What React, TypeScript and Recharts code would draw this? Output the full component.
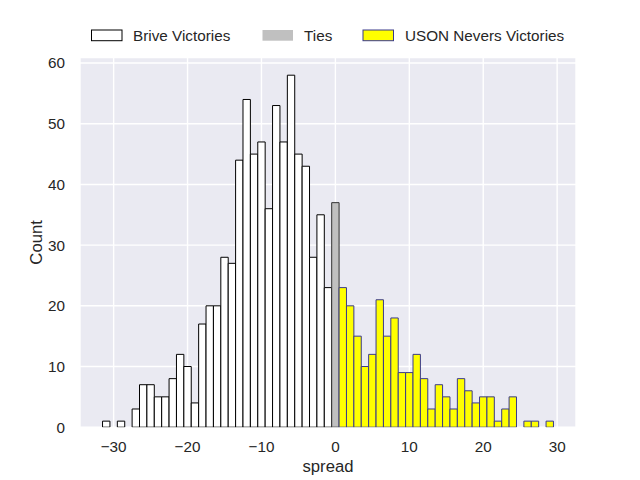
import React from 'react';
import { BarChart, Bar, XAxis, YAxis, CartesianGrid, Legend } from 'recharts';

// histogram bins (width 1, centred on the integer spread)
const spreads = [
  -31, -30, -29, -28, -27, -26, -25, -24, -23, -22, -21, -20, -19, -18, -17, -16,
  -15, -14, -13, -12, -11, -10, -9, -8, -7, -6, -5, -4, -3, -2, -1, 0,
  1, 2, 3, 4, 5, 6, 7, 8, 9, 10, 11, 12, 13, 14, 15, 16, 17, 18, 19, 20,
  21, 22, 23, 24, 25, 26, 27, 28, 29,
];
const counts = [
  1, 0, 1, 0, 3, 7, 7, 5, 5, 8, 12, 10, 4, 17, 20, 20,
  28, 27, 44, 54, 45, 47, 36, 53, 47, 58, 45, 43, 28, 35, 23, 37,
  23, 20, 15, 10, 12, 21, 15, 18, 9, 9, 12, 8, 3, 7, 5, 3, 8, 6, 4, 5,
  5, 1, 3, 5, 0, 1, 1, 0, 1,
];
const xTicks = [-30, -20, -10, 0, 10, 20, 30];
const yTicks = [0, 10, 20, 30, 40, 50, 60];

const data = spreads.map((x, i) => ({
  x,
  brive: x < 0 ? counts[i] : 0,
  ties: x === 0 ? counts[i] : 0,
  uson: x > 0 ? counts[i] : 0,
}));

const FONT = '"Liberation Sans", Arial, sans-serif';
const TEXT = '#262626';

const LegendBox = () => (
  <svg width={640} height={56} style={{ display: 'block' }}>
    <rect x={91.5} y={30} width={30.5} height={10.7} fill="#ffffff" stroke="#000000" strokeWidth={1} />
    <text x={133} y={41} fontSize={15.28} fontFamily={FONT} fill={TEXT}>Brive Victories</text>
    <rect x={262.5} y={30} width={30.5} height={10.7} fill="#c0c0c0" />
    <text x={304} y={41} fontSize={15.28} fontFamily={FONT} fill={TEXT}>Ties</text>
    <rect x={363} y={30} width={30.5} height={10.7} fill="#ffff00" stroke="#3a3a8c" strokeWidth={1} />
    <text x={405} y={41} fontSize={15.28} fontFamily={FONT} fill={TEXT}>USON Nevers Victories</text>
  </svg>
);

const CountLabel = () => (
  <text
    x={42.5}
    y={242.4}
    transform="rotate(-90 42.5 242.4)"
    textAnchor="middle"
    fontSize={16.67}
    fontFamily={FONT}
    fill={TEXT}
  >
    Count
  </text>
);

const App: React.FC = () => {
  return (
    <div style={{ position: 'absolute', left: 0, top: 0, width: 640, height: 480, background: '#ffffff' }}>
      <BarChart
        width={640}
        height={480}
        data={data}
        margin={{ top: 57.6, right: 64, bottom: 0, left: 0 }}
        barCategoryGap={0}
        barGap={0}
      >
        <CartesianGrid fill="#eaeaf2" fillOpacity={1} stroke="#ffffff" strokeWidth={1.4} />
        <XAxis
          dataKey="x"
          type="number"
          domain={[-34.55, 32.55]}
          ticks={xTicks}
          allowDataOverflow
          height={52.8}
          axisLine={false}
          tickLine={false}
          tickSize={0}
          tickMargin={14}
          tick={{ fontSize: 15.28, fontFamily: FONT, fill: TEXT }}
          tickFormatter={(v: number) => (v < 0 ? `\u2212${Math.abs(v)}` : `${v}`)}
          label={{ value: 'spread', position: 'insideBottom', offset: 8, fontSize: 16.67, fontFamily: FONT, fill: TEXT }}
        />
        <YAxis
          type="number"
          domain={[0, 60.9]}
          ticks={yTicks}
          allowDataOverflow
          width={80}
          axisLine={false}
          tickLine={false}
          tickSize={0}
          tickMargin={15}
          tick={{ fontSize: 15.28, fontFamily: FONT, fill: TEXT }}
          label={{ content: () => <CountLabel /> }}
        />
        <Legend
          layout="horizontal"
          verticalAlign="middle"
          align="center"
          wrapperStyle={{ top: 0, left: 0, width: 640, height: 56 }}
          content={() => <LegendBox />}
        />
        <Bar dataKey="brive" stackId="a" barSize={7.39} fill="#ffffff" stroke="#000000" strokeWidth={1} isAnimationActive={false} />
        <Bar dataKey="ties" stackId="a" barSize={7.39} fill="#c0c0c0" stroke="#333333" strokeWidth={1} isAnimationActive={false} />
        <Bar dataKey="uson" stackId="a" barSize={7.39} fill="#ffff00" stroke="#3a3a8c" strokeWidth={1} isAnimationActive={false} />
      </BarChart>
    </div>
  );
};

export default App;
